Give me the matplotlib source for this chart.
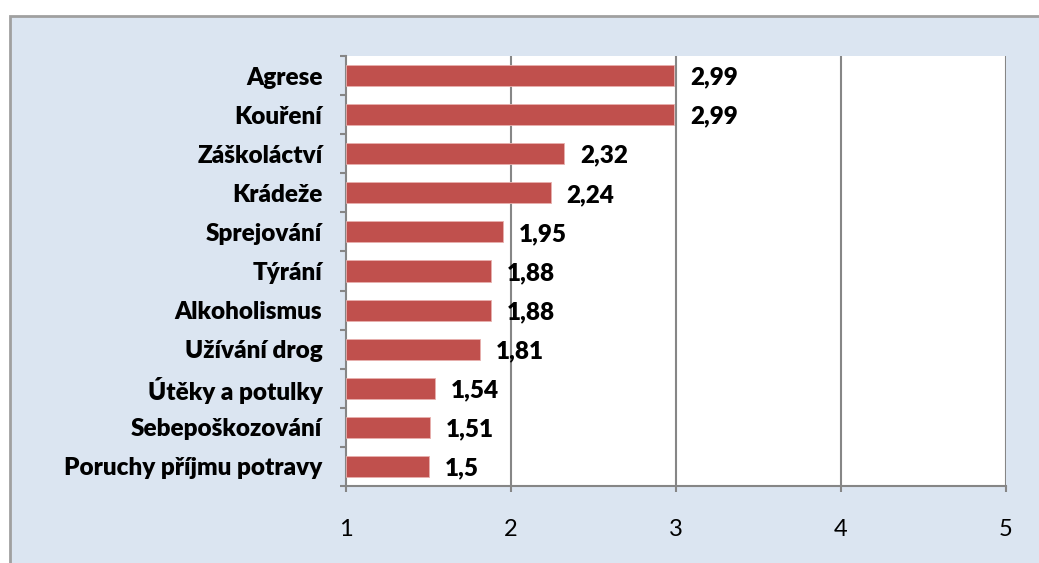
import numpy as np
import matplotlib.pyplot as plt
from matplotlib.patches import Rectangle

# data
categories = ['Agrese', 'Kouření', 'Záškoláctví', 'Krádeže', 'Sprejování', 'Týrání',
              'Alkoholismus', 'Užívání drog', 'Útěky a potulky', 'Sebepoškozování',
              'Poruchy příjmu potravy']
values = [2.99, 2.99, 2.32, 2.24, 1.95, 1.88, 1.88, 1.81, 1.54, 1.51, 1.5]
value_labels = ['2,99', '2,99', '2,32', '2,24', '1,95', '1,88', '1,88', '1,81', '1,54', '1,51', '1,5']
x_ticks = [1, 2, 3, 4, 5]

plt.rcParams['font.family'] = ['Lato', 'DejaVu Sans']

bg = '#DBE5F1'
grid_col = '#868686'
bar_col = '#C0504D'

fig = plt.figure(figsize=(10.39, 5.63), dpi=100, facecolor='white')
# outer chart area with gray border
fig.patches.append(Rectangle((9.5 / 1039, -0.05), 1.1, 1 - 15.5 / 563 + 0.05,
                             transform=fig.transFigure, facecolor=bg,
                             edgecolor='#A0A0A0', linewidth=2, zorder=-1))

ax = fig.add_axes([346 / 1039, 1 - 486 / 563, 660 / 1039, 430 / 563])
ax.set_facecolor('white')

y = np.arange(len(categories))
ax.barh(y, [v - 1 for v in values], left=1, height=0.54, color=bar_col,
        edgecolor='#E8B0AE', linewidth=0.6, zorder=3)

for yi, v, lab in zip(y, values, value_labels):
    ax.annotate(lab, (v, yi), xytext=(16, -2), textcoords='offset pixels',
                ha='left', va='center', fontsize=17.5, fontweight='heavy', zorder=4)

ax.set_xlim(1, 5)
ax.set_ylim(len(categories) - 0.5, -0.5)

ax.set_xticks(x_ticks)
ax.set_xticklabels([str(t) for t in x_ticks], fontsize=17)
ax.set_yticks(y)
ax.set_yticklabels(categories, fontsize=17.5, fontweight='heavy')
ax.set_yticks(np.arange(-0.5, len(categories)), minor=True)

ax.tick_params(axis='y', which='major', length=0, pad=17)
ax.tick_params(axis='y', which='minor', length=4, width=1.5, color=grid_col, direction='out')
ax.tick_params(axis='x', which='major', length=4, width=1.5, color=grid_col, pad=20)

for x in x_ticks[1:]:
    ax.axvline(x, color=grid_col, linewidth=1.5, zorder=1)

for s in ['top', 'right']:
    ax.spines[s].set_visible(False)
for s in ['left', 'bottom']:
    ax.spines[s].set_color(grid_col)
    ax.spines[s].set_linewidth(1.5)

fig.savefig('out.png', dpi=100, facecolor=fig.get_facecolor())
